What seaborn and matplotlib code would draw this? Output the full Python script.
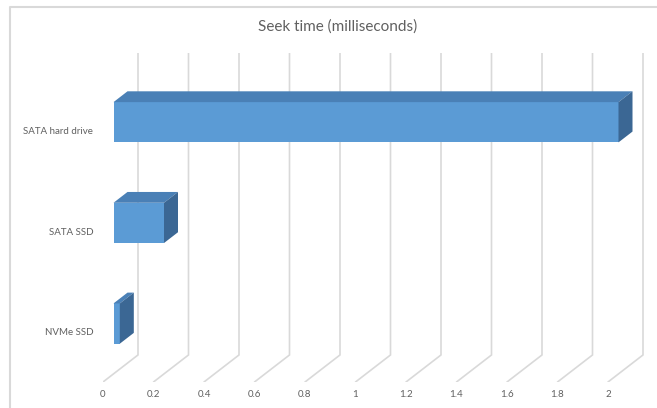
import matplotlib
matplotlib.use("Agg")
import matplotlib.pyplot as plt
import seaborn as sns
import pandas as pd
from matplotlib.patches import Polygon
from matplotlib.lines import Line2D

# --- data ---
drives = ["SATA hard drive", "SATA SSD", "NVMe SSD"]
seek_ms = [2.0, 0.2, 0.025]
x_ticks = [0, 0.2, 0.4, 0.6, 0.8, 1.0, 1.2, 1.4, 1.6, 1.8, 2.0]
x_tick_labels = ["0", "0.2", "0.4", "0.6", "0.8", "1", "1.2", "1.4", "1.6", "1.8", "2"]
title = "Seek time (milliseconds)"

df = pd.DataFrame({"drive": drives, "seek": seek_ms})

# colours (Excel-like 3D bar)
FRONT = "#5b9bd5"
TOP = "#4a80b6"
SIDE = "#3b6794"
GRID = "#d9d9d9"
TEXT = "#606060"

sns.set_theme(style="white")
plt.rcParams["font.family"] = ["Lato", "DejaVu Sans"]

W, H = 657, 408
fig = plt.figure(figsize=(W / 100, H / 100), dpi=100)

# axes = front plane region (pixels): x 103..657, y 53..382
left, right, top, bottom = 103, 657, 53, 382
ax = fig.add_axes([left / W, 1 - bottom / H, (right - left) / W, (bottom - top) / H])

sns.barplot(data=df, x="seek", y="drive", orient="h", color=FRONT,
            saturation=1, width=0.4, ax=ax, zorder=3)

px_per_x = 252.5     # pixels per millisecond on the front plane
px_per_cat = 100.5   # pixels between categories
DX = 35 / px_per_x    # full depth offset (right)
DY = -27 / px_per_cat  # full depth offset (up, y axis inverted)

ax.set_xlim(0, (right - left) / px_per_x)
ax.set_ylim(2.5, -0.5 + DY)

# back wall gridlines + floor diagonals
for t in x_ticks:
    ax.plot([t, t + DX, t + DX], [2.5, 2.5 + DY, -0.5 + DY],
            color=GRID, lw=1.2, zorder=1, solid_joinstyle="miter")

# 3D faces on each bar
f0, bd = 0.3, 0.4
for p in ax.patches[:len(drives)]:
    x0 = p.get_x() + f0 * DX
    y0 = p.get_y() + f0 * DY
    w, h = p.get_width(), p.get_height()
    p.set_x(x0)
    p.set_y(y0)
    p.set_edgecolor("none")
    ax.add_patch(Polygon([(x0, y0), (x0 + w, y0), (x0 + w + bd * DX, y0 + bd * DY),
                          (x0 + bd * DX, y0 + bd * DY)], closed=True,
                         facecolor=TOP, edgecolor="none", zorder=3))
    ax.add_patch(Polygon([(x0 + w, y0), (x0 + w, y0 + h), (x0 + w + bd * DX, y0 + h + bd * DY),
                          (x0 + w + bd * DX, y0 + bd * DY)], closed=True,
                         facecolor=SIDE, edgecolor="none", zorder=3))

ax.set_xticks(x_ticks, x_tick_labels)
ax.tick_params(axis="x", length=0, pad=6, labelsize=7, labelcolor=TEXT)
ax.tick_params(axis="y", length=0, pad=7, labelsize=7, labelcolor=TEXT)
ax.set_xlabel("")
ax.set_ylabel("")
for s in ax.spines.values():
    s.set_visible(False)
ax.set_facecolor("none")

fig.text(338 / W, 1 - 27 / H, title, ha="center", va="center", fontsize=11, color=TEXT)

# chart area frame (top and left edges visible)
fig.add_artist(Line2D([10 / W, 10 / W, 1], [0, 1 - 7 / H, 1 - 7 / H],
                      transform=fig.transFigure, color=GRID, lw=1.5))

fig.savefig("out.png", dpi=100)
